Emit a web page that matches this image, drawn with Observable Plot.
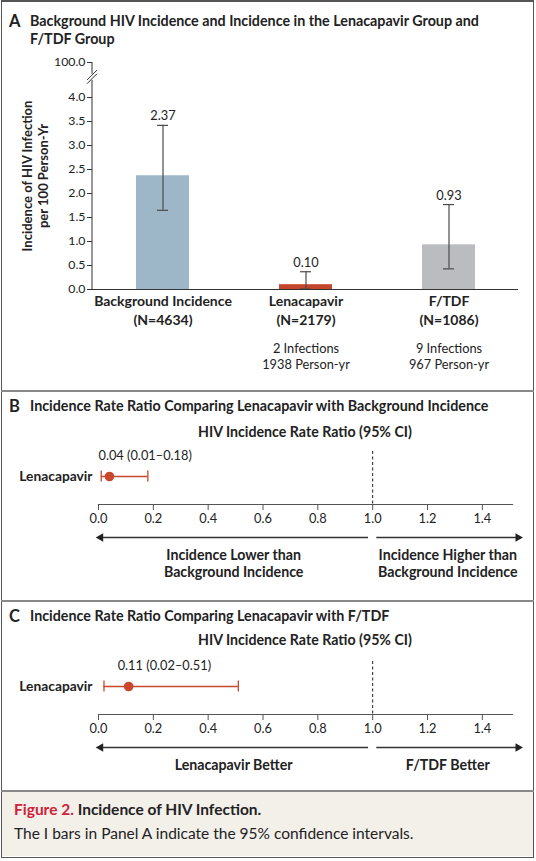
<!DOCTYPE html>
<html>
<head>
<meta charset="utf-8">
<script src="https://cdn.jsdelivr.net/npm/d3@7"></script>
<script src="https://cdn.jsdelivr.net/npm/@observablehq/plot@0.6"></script>
<style>
  html, body { margin: 0; padding: 0; background: #fff; }
  #page { position: relative; width: 536px; height: 861px; font-family: Lato, "Open Sans", sans-serif; color: #222; overflow: hidden; }
  .abs { position: absolute; }
  .frame { left: 1px; top: 0px; width: 533px; height: 858px; box-sizing: border-box; border: 1.5px solid #555; border-top-width: 2px; }
  .sep { left: 1px; width: 533px; height: 1.5px; background: #888; }
  .ptitle { font-weight: bold; font-size: 14.3px; line-height: 18px; white-space: nowrap; }
  .pletter { font-weight: bold; font-size: 16.5px; line-height: 18px; }
  .hdr { font-weight: bold; font-size: 14.2px; line-height: 18px; white-space: nowrap; }
  .caption { left: 2px; top: 791px; width: 531px; height: 65px; background: #f3f0ea; }
  .chart svg { display: block; overflow: visible; }
</style>
</head>
<body>
<div id="page">
  <div class="abs caption"></div>
  <div class="abs frame"></div>
  <div class="abs sep" style="top:390px"></div>
  <div class="abs sep" style="top:600px"></div>
  <div class="abs sep" style="top:790px"></div>

  <div class="abs pletter" style="left:9px;top:12px">A</div>
  <div class="abs ptitle" style="left:30px;top:12px">Background HIV Incidence and Incidence in the Lenacapavir Group and<br>F/TDF Group</div>
  <div class="abs chart" id="chartA" style="left:0;top:50px"></div>

  <div class="abs pletter" style="left:9px;top:397px">B</div>
  <div class="abs ptitle" style="left:30px;top:397px">Incidence Rate Ratio Comparing Lenacapavir with Background Incidence</div>
  <div class="abs hdr" style="left:198px;top:423px">HIV Incidence Rate Ratio (95% CI)</div>
  <div class="abs chart" id="chartB" style="left:0;top:440px"></div>

  <div class="abs pletter" style="left:9px;top:607px">C</div>
  <div class="abs ptitle" style="left:30px;top:607px">Incidence Rate Ratio Comparing Lenacapavir with F/TDF</div>
  <div class="abs hdr" style="left:198px;top:631px">HIV Incidence Rate Ratio (95% CI)</div>
  <div class="abs chart" id="chartC" style="left:0;top:650px"></div>

  <div class="abs" style="left:14px;top:800px;font-size:15.5px;line-height:18px;font-weight:bold;white-space:nowrap"><span style="color:#d0213a">Figure 2.</span> Incidence of HIV Infection.</div>
  <div class="abs" style="left:14px;top:824px;font-size:15.5px;line-height:18px;white-space:nowrap">The I bars in Panel A indicate the 95% confidence intervals.</div>
</div>

<script>
// ---------- Panel A data ----------
const categories = ["Background Incidence", "Lenacapavir", "F/TDF"];
const sampleSizes = [4634, 2179, 1086];
const incidence = [2.37, 0.10, 0.93];
const ciLow = [1.65, 0.01, 0.43];
const ciHigh = [3.42, 0.37, 1.77];
const infectionNotes = ["", "2 Infections\n1938 Person-yr", "9 Infections\n967 Person-yr"];
const barColors = ["#9db7c8", "#c4452b", "#bbbcbf"];
const yTicks = [0, 0.5, 1.0, 1.5, 2.0, 2.5, 3.0, 3.5, 4.0];
const yTopTick = 4.73;       // position of the broken-axis "100.0" tick
const yTopLabel = "100.0";
const yBreak = 4.42;         // where the axis break sits
const yTitle = "Incidence of HIV Infection\nper 100 Person-Yr";

// ---------- Panels B and C data ----------
const rowLabels = ["Lenacapavir"];
const ratioB = [0.04], ratioBLow = [0.01], ratioBHigh = [0.18];
const ratioC = [0.11], ratioCLow = [0.02], ratioCHigh = [0.51];
const xTicks = [0, 0.2, 0.4, 0.6, 0.8, 1.0, 1.2, 1.4];
const xDomain = [0, 1.51];
const nullValue = 1.0;
const dirLabelsB = ["Incidence Lower than\nBackground Incidence", "Incidence Higher than\nBackground Incidence"];
const dirLabelsC = ["Lenacapavir Better", "F/TDF Better"];
const dirLabelPos = [0.493, 1.274];
const arrowFrom = [0.985, 1.015];
const arrowTo = [0.008, 1.53];

// ---------- Panel A ----------
const groups = categories.map((name, i) => ({
  name, n: sampleSizes[i], rate: incidence[i], lo: ciLow[i], hi: ciHigh[i], note: infectionNotes[i]
}));

const axisBreak = (index, scales, values, dimensions) => {
  const x0 = dimensions.marginLeft;
  const yb = scales.y(yBreak);
  const g = d3.create("svg:g").attr("stroke", "#333").attr("stroke-width", 1).attr("fill", "none");
  g.append("line").attr("x1", x0).attr("x2", x0).attr("y1", scales.y(0)).attr("y2", yb + 3);
  g.append("line").attr("x1", x0).attr("x2", x0).attr("y1", yb - 3).attr("y2", scales.y(yTopTick));
  for (const off of [-1.8, 1.8]) {
    g.append("line")
      .attr("x1", x0 - 5).attr("y1", yb + off + 5)
      .attr("x2", x0 + 5).attr("y2", yb + off - 5);
  }
  return g.node();
};

const chartA = Plot.plot({
  width: 536,
  height: 335,
  marginLeft: 92,
  marginRight: 18,
  marginTop: 12,
  marginBottom: 96,
  style: { fontFamily: "Lato, 'Open Sans', sans-serif", color: "#222", background: "transparent" },
  x: { domain: categories, paddingInner: 0.63, paddingOuter: 0.3, axis: null },
  y: { domain: [0, yTopTick], axis: null },
  color: { domain: categories, range: barColors },
  marks: [
    Plot.barY(groups, { x: "name", y: "rate", fill: "name" }),
    Plot.ruleX(groups, { x: "name", y1: "lo", y2: "hi", stroke: "#4a4a4a", strokeWidth: 1.2 }),
    Plot.tickY(groups, { x: "name", y: "lo", stroke: "#4a4a4a", strokeWidth: 1.2, insetLeft: 21, insetRight: 21 }),
    Plot.tickY(groups, { x: "name", y: "hi", stroke: "#4a4a4a", strokeWidth: 1.2, insetLeft: 21, insetRight: 21 }),
    Plot.text(groups, { x: "name", y: "hi", text: d => d.rate.toFixed(2), dy: -9, fontSize: 12.8, fill: "#222" }),
    Plot.ruleY([0], { stroke: "#333", strokeWidth: 1 }),
    Plot.axisY({
      ticks: [...yTicks, yTopTick],
      tickFormat: d => d === yTopTick ? yTopLabel : d.toFixed(1),
      tickSize: 5, tickPadding: 2, fontSize: 12.3, label: null, stroke: "#333"
    }),
    axisBreak,
    Plot.text([yTitle], { frameAnchor: "left", textAnchor: "middle", rotate: -90, dx: -58, fontWeight: "bold", fontSize: 13, lineHeight: 1.25, fill: "#222" }),
    Plot.text(groups, { x: "name", y: () => 0, text: d => `${d.name}\n(N=${d.n})`, lineAnchor: "top", dy: 4, fontWeight: "bold", fontSize: 14, lineHeight: 1.3, fill: "#222" }),
    Plot.text(groups, { x: "name", y: () => 0, text: "note", lineAnchor: "top", dy: 52, fontSize: 12.8, lineHeight: 1.25, fill: "#222" })
  ]
});
document.getElementById("chartA").append(chartA);

// ---------- Forest panels ----------
function forest(est, lo, hi, dirLabels, height) {
  const rows = rowLabels.map((label, i) => ({ label, est: est[i], lo: lo[i], hi: hi[i] }));
  const dirs = dirLabels.map((text, i) => ({ text, x: dirLabelPos[i], row: rowLabels[0] }));
  const arrows = arrowFrom.map((from, i) => ({ from, to: arrowTo[i], row: rowLabels[0], rot: arrowTo[i] < from ? -90 : 90 }));
  const red = "#c8472d";
  return Plot.plot({
    width: 536,
    height,
    marginLeft: 98,
    marginRight: 24,
    marginTop: 8,
    marginBottom: height - 64,
    style: { fontFamily: "Lato, 'Open Sans', sans-serif", color: "#222", background: "transparent" },
    x: { domain: xDomain, axis: null },
    y: { type: "band", domain: rowLabels, padding: 0, axis: null },
    marks: [
      Plot.frame({ anchor: "bottom", stroke: "#555", strokeWidth: 1.2 }),
      Plot.axisX({ ticks: xTicks, tickFormat: d3.format(".1f"), tickSize: 6, tickPadding: 3, fontSize: 12.8, label: null, stroke: "#555" }),
      Plot.axisY({ tickSize: 0, tickPadding: 6, fontSize: 13.8, fontWeight: "bold", label: null }),
      Plot.ruleX([nullValue], { stroke: "#222", strokeDasharray: "3,2.5", strokeWidth: 1, insetTop: 3 }),
      Plot.ruleY(rows, { y: "label", x1: "lo", x2: "hi", stroke: red, strokeWidth: 1.3 }),
      Plot.tickX(rows, { y: "label", x: "lo", stroke: red, strokeWidth: 1.3, insetTop: 22.5, insetBottom: 22.5 }),
      Plot.tickX(rows, { y: "label", x: "hi", stroke: red, strokeWidth: 1.3, insetTop: 22.5, insetBottom: 22.5 }),
      Plot.dot(rows, { y: "label", x: "est", r: 4.8, fill: red, stroke: null }),
      Plot.text(rows, { y: "label", x: "est", text: d => `${d.est.toFixed(2)} (${d.lo.toFixed(2)}\u2013${d.hi.toFixed(2)})`, textAnchor: "start", dx: -11, dy: -21, fontSize: 12.8, fill: "#222" }),
      Plot.ruleY(arrows, { y: "row", x1: "from", x2: "to", dy: 61, stroke: "#333", strokeWidth: 1.3 }),
      Plot.dot(arrows, { y: "row", x: "to", dy: 61, symbol: "triangle", rotate: "rot", r: 3.2, fill: "#222", stroke: null }),
      Plot.text(dirs, { x: "x", y: "row", text: "text", lineAnchor: "top", dy: 71, fontWeight: "bold", fontSize: 14.2, lineHeight: 1.22, fill: "#222" })
    ]
  });
}

document.getElementById("chartB").append(forest(ratioB, ratioBLow, ratioBHigh, dirLabelsB, 150));
document.getElementById("chartC").append(forest(ratioC, ratioCLow, ratioCHigh, dirLabelsC, 135));
</script>
</body>
</html>
